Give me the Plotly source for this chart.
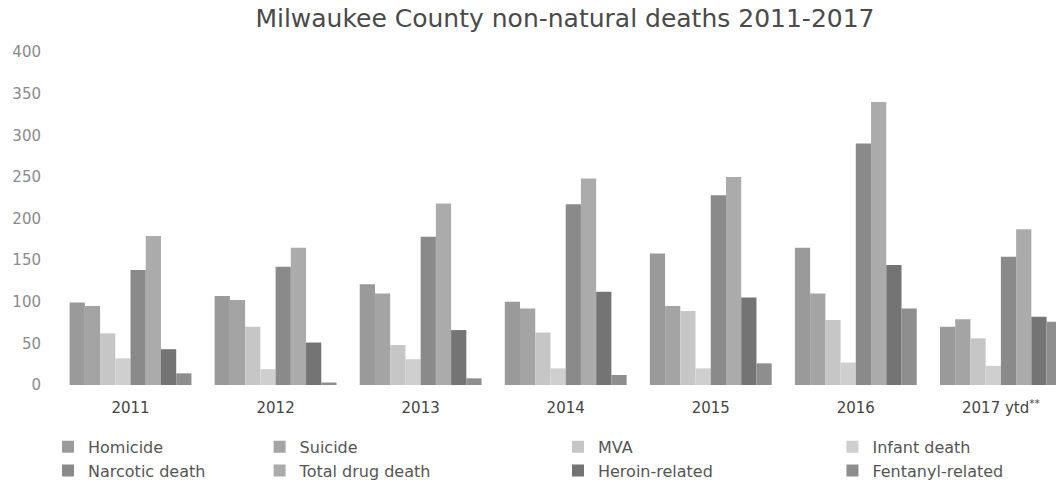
import plotly.graph_objects as go

years = ["2011", "2012", "2013", "2014", "2015", "2016", "2017 ytd<sup>**</sup>"]

homicide = [99, 107, 121, 100, 158, 165, 70]
suicide = [95, 102, 110, 92, 95, 110, 79]
mva = [62, 70, 48, 63, 89, 78, 56]
infant = [32, 19, 31, 20, 20, 27, 23]
narcotic = [138, 142, 178, 217, 228, 290, 154]
total_drug = [179, 165, 218, 248, 250, 340, 187]
heroin = [43, 51, 66, 112, 105, 144, 82]
fentanyl = [14, 3, 8, 12, 26, 92, 76]

series = [
    ("Homicide", homicide, "#9a9a9a", "legend"),
    ("Suicide", suicide, "#a4a4a4", "legend2"),
    ("MVA", mva, "#c6c6c6", "legend3"),
    ("Infant death", infant, "#cfcfcf", "legend4"),
    ("Narcotic death", narcotic, "#8a8a8a", "legend"),
    ("Total drug death", total_drug, "#ababab", "legend2"),
    ("Heroin-related", heroin, "#747474", "legend3"),
    ("Fentanyl-related", fentanyl, "#8e8e8e", "legend4"),
]

fig = go.Figure()
for name, vals, color, leg in series:
    fig.add_trace(go.Bar(
        x=years, y=vals, name=name, marker_color=color,
        marker_line_width=0, legend=leg,
    ))

legend_font = dict(family="DejaVu Sans", size=16, color="#555555")
legend_common = dict(
    orientation="v", yref="container", yanchor="top", y=0.112,
    xanchor="left", font=legend_font, bgcolor="rgba(0,0,0,0)",
    tracegroupgap=0, itemwidth=30,
)

fig.update_layout(
    width=1056, height=484,
    margin=dict(l=58, r=0, t=52, b=99),
    paper_bgcolor="white", plot_bgcolor="white",
    barmode="group", bargap=0.16, bargroupgap=0,
    title=dict(
        text="Milwaukee County non-natural deaths 2011-2017",
        x=0.535, xanchor="center", y=0.962, yanchor="middle",
        font=dict(family="DejaVu Sans", size=25, color="#4a4a4a"),
    ),
    xaxis=dict(
        range=[-0.5, 6.38], showline=False, showgrid=False, ticks="",
        ticklabelstandoff=12, automargin=False,
        tickfont=dict(family="DejaVu Sans", size=15, color="#444444"),
    ),
    yaxis=dict(
        range=[0, 400], dtick=50, showgrid=False, zeroline=False,
        showline=False, ticks="", ticklabelstandoff=16, automargin=False,
        tickfont=dict(family="DejaVu Sans", size=15, color="#8a8a8a"),
    ),
    legend=dict(x=-0.010, **legend_common),
    legend2=dict(x=0.202, **legend_common),
    legend3=dict(x=0.501, **legend_common),
    legend4=dict(x=0.776, **legend_common),
    showlegend=True,
)

fig.write_html("out.html")
